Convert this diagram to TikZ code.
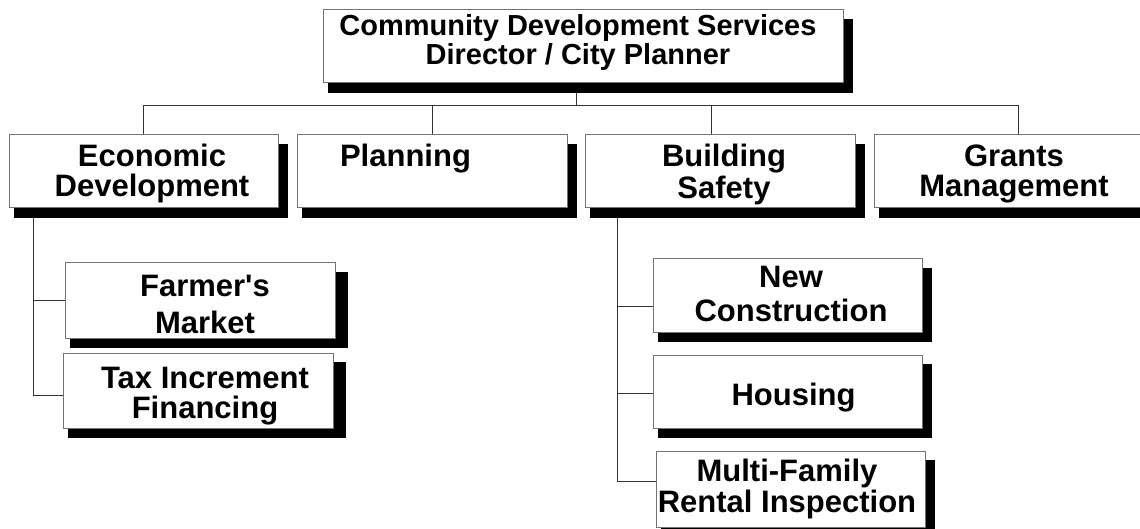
\documentclass[tikz,border=0pt]{standalone}
\usepackage{fontspec}
\setmainfont{Liberation Sans}
\usetikzlibrary{calc}
\pgfdeclarelayer{bg}
\pgfsetlayers{bg,main}
\newcommand{\sm}[1]{\smash{#1}}
\tikzset{
  box/.style={draw=black!55, line width=1pt, fill=white, rectangle, inner sep=0pt, outer sep=0pt, anchor=north west},
  lbl/.style={font=\bfseries\fontsize{31}{30}\selectfont, align=center, inner sep=0pt, text=black},
  toplbl/.style={lbl, font=\bfseries\fontsize{29}{28.6}\selectfont},
  conn/.style={draw=black!80, line width=1pt},
  shade/.style={fill=black, draw=none},
}
\begin{document}
\begin{tikzpicture}[x=1pt, y=-1pt]
\useasboundingbox (0,0) rectangle (1140,529);

% boxes
\node[box, minimum width=520pt, minimum height=73pt] (top) at (323,10) {};
\node[box, minimum width=269pt, minimum height=73pt] (econ) at (9,135) {};
\node[box, minimum width=270pt, minimum height=73pt] (plan) at (297,135) {};
\node[box, minimum width=270pt, minimum height=73pt] (bldg) at (585,135) {};
\node[box, minimum width=288pt, minimum height=73pt] (grants) at (874,135) {};
\node[box, minimum width=270pt, minimum height=75pt] (farmer) at (65,263) {};
\node[box, minimum width=270pt, minimum height=75pt] (tax) at (63,353) {};
\node[box, minimum width=269pt, minimum height=73pt] (newc) at (653,259) {};
\node[box, minimum width=269pt, minimum height=73pt] (housing) at (653,355) {};
\node[box, minimum width=269pt, minimum height=76pt] (multi) at (656,451) {};

% texts
\node[toplbl] (topT) at (578,50) {\sm{Community Development Services}\\\sm{Director / City Planner}};
\node[lbl] (econT) at (152,181.3) {\sm{Economic}\\\sm{Development}};
\node[lbl] (planT) at (405.5,166.7) {\sm{Planning}};
\node[lbl] (bldgT) at (724,182.5) {\sm{Building}\\[1.6pt]\sm{Safety}};
\node[lbl] (grantsT) at (1014,181.3) {\sm{Grants}\\\sm{Management}};
\node[lbl] (farmerT) at (205,315) {\sm{Farmer\textquotesingle s}\\[6.6pt]\sm{Market}};
\node[lbl] (taxT) at (205,403) {\sm{Tax Increment}\\\sm{Financing}};
\node[lbl] (newcT) at (791,304.8) {\sm{New}\\[3.7pt]\sm{Construction}};
\node[lbl] (housingT) at (793.5,405) {\sm{Housing}};
\node[lbl] (multiT) at (787,497.3) {\sm{Multi-Family}\\[1.3pt]\sm{Rental Inspection}};

\begin{pgfonlayer}{bg}
  \fill[white] (0,0) rectangle (1140,529);
  % connectors
  \coordinate (hub) at (576,106);
  \draw[conn] (hub) -- (hub |- top.south);
  \draw[conn] (econ.north) |- (hub);
  \draw[conn] (plan.north) |- (hub);
  \draw[conn] ([xshift=-9pt]bldg.north) |- (hub);
  \draw[conn] (grants.north) |- (hub);
  \coordinate (econdrop) at ([xshift=24pt]econ.south west);
  \draw[conn] (econdrop) |- (farmer.west);
  \draw[conn] (econdrop) |- ([yshift=-4.5pt]tax.west);
  \coordinate (bldgdrop) at ([xshift=32pt]bldg.south west);
  \draw[conn] (bldgdrop) |- ([yshift=-11pt]newc.west);
  \draw[conn] (bldgdrop) |- ([yshift=-1.5pt]housing.west);
  \draw[conn] (bldgdrop) |- ([yshift=8pt]multi.west);
  % shadows
  \foreach \n in {top,econ,plan,bldg,grants,newc,housing,multi}
    \fill[shade] ($(\n.north west)+(5,9)$) rectangle ($(\n.south east)+(10,10)$);
  \foreach \n in {farmer,tax}
    \fill[shade] ($(\n.north west)+(5,9)$) rectangle ($(\n.south east)+(13,10)$);
\end{pgfonlayer}
\end{tikzpicture}
\end{document}
